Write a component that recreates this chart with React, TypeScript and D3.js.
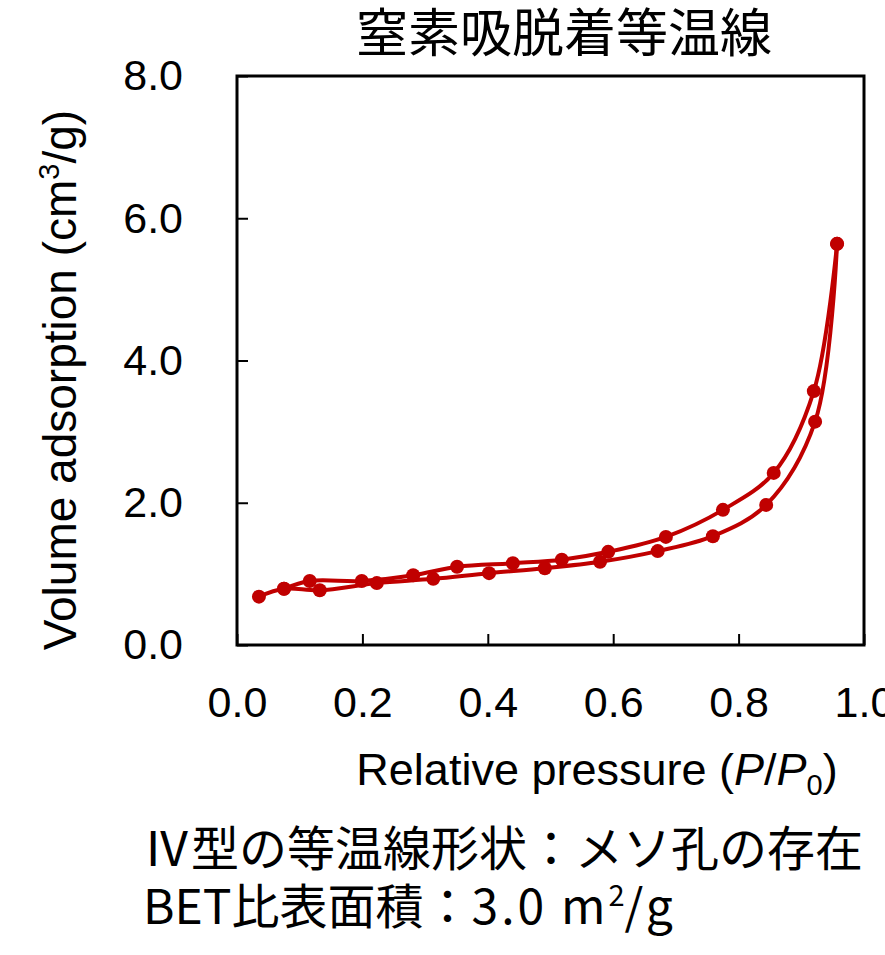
import React, { useEffect, useRef } from 'react';
import * as d3 from 'd3';

// adsorption branch (P/P0 rising)
const adsP = [0.035, 0.075, 0.132, 0.223, 0.313, 0.402, 0.491, 0.579, 0.671, 0.759, 0.844, 0.922, 0.957];
const adsV = [0.68, 0.79, 0.77, 0.87, 0.93, 1.01, 1.08, 1.17, 1.32, 1.53, 1.97, 3.14, 5.64];
// desorption branch (P/P0 falling)
const desP = [0.957, 0.92, 0.856, 0.775, 0.684, 0.592, 0.518, 0.44, 0.351, 0.281, 0.199, 0.116, 0.075];
const desV = [5.64, 3.57, 2.42, 1.9, 1.52, 1.31, 1.2, 1.15, 1.1, 0.98, 0.9, 0.9, 0.79];

const xTicks = [0, 0.2, 0.4, 0.6, 0.8, 1.0];
const yTicks = [0, 2, 4, 6, 8];

const title = '窒素吸脱着等温線';
const note1 = 'Ⅳ型の等温線形状：メソ孔の存在';
const note2a = 'BET比表面積：';
const note2b = '3.0 m';

const W = 885;
const H = 955;
const margin = { left: 237, right: 21, top: 76, bottom: 310 };
const red = '#C00000';
const latin = '"Liberation Sans", Arial, sans-serif';
const cjk = '"Noto Sans CJK JP", sans-serif';

const App = () => {
  const ref = useRef(null);

  useEffect(() => {
    if (!ref.current) return;
    const svg = d3.select(ref.current);
    svg.selectAll('*').remove();

    const x = d3.scaleLinear().domain([0, 1]).range([margin.left, W - margin.right]);
    const y = d3.scaleLinear().domain([0, 8]).range([H - margin.bottom, margin.top]);

    svg.append('rect').attr('width', W).attr('height', H).attr('fill', 'white');

    // title
    svg.append('text')
      .attr('x', 564).attr('y', 52)
      .attr('text-anchor', 'middle')
      .style('font-family', cjk)
      .style('font-size', '52px')
      .text(title);

    // axes with inward ticks
    const xAxis = d3.axisBottom(x)
      .tickValues(xTicks)
      .tickFormat(d3.format('.1f'))
      .tickSizeInner(-11)
      .tickSizeOuter(0)
      .tickPadding(41);
    const gx = svg.append('g').attr('transform', `translate(0,${y(0)})`).call(xAxis);
    gx.select('.domain').remove();
    gx.selectAll('line').attr('stroke', '#000').attr('stroke-width', 2);
    gx.selectAll('text').style('font-family', latin).style('font-size', '43px').attr('fill', '#000');

    const yAxis = d3.axisLeft(y)
      .tickValues(yTicks)
      .tickFormat(d3.format('.1f'))
      .tickSizeInner(-11)
      .tickSizeOuter(0)
      .tickPadding(54);
    const gy = svg.append('g').attr('transform', `translate(${x(0)},0)`).call(yAxis);
    gy.select('.domain').remove();
    gy.selectAll('line').attr('stroke', '#000').attr('stroke-width', 2);
    gy.selectAll('text').style('font-family', latin).style('font-size', '43px').attr('fill', '#000');

    // frame
    svg.append('rect')
      .attr('x', x(0)).attr('y', y(8))
      .attr('width', x(1) - x(0)).attr('height', y(0) - y(8))
      .attr('fill', 'none').attr('stroke', '#000').attr('stroke-width', 3);

    // axis titles
    const xt = svg.append('text')
      .attr('x', 597).attr('y', 785)
      .attr('text-anchor', 'middle')
      .style('font-family', latin).style('font-size', '45px');
    xt.append('tspan').text('Relative pressure (');
    xt.append('tspan').style('font-style', 'italic').text('P');
    xt.append('tspan').text('/');
    xt.append('tspan').style('font-style', 'italic').text('P');
    xt.append('tspan').attr('dy', 10).style('font-size', '29px').text('0');
    xt.append('tspan').attr('dy', -10).text(')');

    const yt = svg.append('text')
      .attr('transform', 'translate(76,380) rotate(-90)')
      .attr('text-anchor', 'middle')
      .style('font-family', latin).style('font-size', '46px');
    yt.append('tspan').text('Volume adsorption (cm');
    yt.append('tspan').attr('dy', -17).style('font-size', '29px').text('3');
    yt.append('tspan').attr('dy', 17).text('/g)');

    // curves
    const line = d3.line<number>()
      .curve(d3.curveCatmullRom.alpha(0.5));
    const series = [
      { p: adsP, v: adsV },
      { p: desP, v: desV },
    ];
    series.forEach((s) => {
      const pts = s.p.map((p, i) => [x(p), y(s.v[i])]);
      svg.append('path')
        .attr('d', line(pts as any))
        .attr('fill', 'none')
        .attr('stroke', red)
        .attr('stroke-width', 4);
    });
    series.forEach((s) => {
      svg.append('g')
        .selectAll('circle')
        .data(s.p)
        .join('circle')
        .attr('cx', (d) => x(d))
        .attr('cy', (d, i) => y(s.v[i]))
        .attr('r', 7)
        .attr('fill', red);
    });

    // notes below the chart
    svg.append('text')
      .attr('x', 143).attr('y', 866)
      .style('font-family', cjk).style('font-size', '48px')
      .text(note1);
    const n2 = svg.append('text')
      .attr('x', 143).attr('y', 924)
      .style('font-family', cjk).style('font-size', '48px');
    n2.append('tspan').text(note2a);
    n2.append('tspan').style('letter-spacing', '3px').text(note2b);
    n2.append('tspan').attr('dy', -18).style('font-size', '29px').text('2');
    n2.append('tspan').attr('dy', 18).style('letter-spacing', '3px').text('/g');
  }, []);

  return (
    <div style={{ position: 'absolute', left: 0, top: 0 }}>
      <svg ref={ref} width={W} height={H} style={{ display: 'block' }} />
    </div>
  );
};

export default App;
